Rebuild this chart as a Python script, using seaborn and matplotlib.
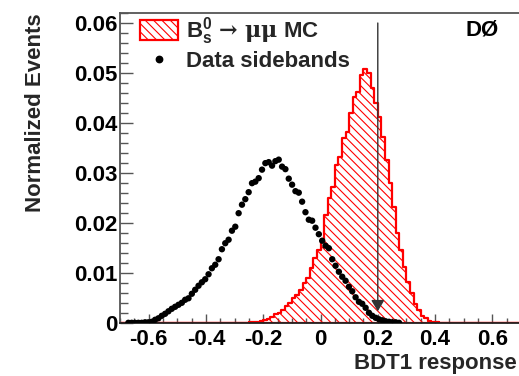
import numpy as np
import matplotlib
matplotlib.use("Agg")
import matplotlib.pyplot as plt
import seaborn as sns
from matplotlib.patches import Patch
from matplotlib.lines import Line2D
from matplotlib.ticker import MultipleLocator, FuncFormatter

# ---------------- data ----------------
x_range = (-0.7, 0.7)
y_range = (0.0, 0.062)
cut_value = 0.2

# Bs -> mu mu MC histogram: bins of width 0.0125, first filled bin starts at -0.25
mc_bin_width = 0.0125
mc_first_edge = -0.25
mc_values = [
    0.0002, 0.0003, 0.0003, 0.0005, 0.0006, 0.0009, 0.0013, 0.0018, 0.0021, 0.0027,
    0.0035, 0.0041, 0.0050, 0.0057, 0.0067, 0.0080, 0.0090, 0.0110, 0.0130, 0.0147,
    0.0162, 0.0217, 0.0250, 0.0272, 0.0317, 0.0333, 0.0370, 0.0383, 0.0420, 0.0453,
    0.0463, 0.0497, 0.0508, 0.0500, 0.0470, 0.0440, 0.0413, 0.0373, 0.0327, 0.0280,
    0.0233, 0.0180, 0.0147, 0.0113, 0.0083, 0.0060, 0.0039, 0.0027, 0.0015, 0.0010,
    0.0005, 0.0003, 0.0002, 0.0001,
]

# Data sidebands: 120 bins over [-0.7, 0.7], filled from bin index 2
data_n_bins = 120
data_first_bin = 2
data_values = [
    0.0001, 0.0001, 0.0001, 0.0001, 0.0001, 0.0002, 0.0002, 0.0003, 0.0007, 0.0010,
    0.0015, 0.0019, 0.0024, 0.0029, 0.0033, 0.0037, 0.0041, 0.0047, 0.0050, 0.0059,
    0.0067, 0.0075, 0.0082, 0.0088, 0.0098, 0.0110, 0.0117, 0.0128, 0.0148, 0.0160,
    0.0167, 0.0185, 0.0193, 0.0220, 0.0237, 0.0248, 0.0262, 0.0280, 0.0283, 0.0290,
    0.0307, 0.0320, 0.0322, 0.0315, 0.0324, 0.0327, 0.0313, 0.0308, 0.0289, 0.0277,
    0.0264, 0.0261, 0.0243, 0.0222, 0.0207, 0.0205, 0.0191, 0.0178, 0.0165, 0.0155,
    0.0150, 0.0128, 0.0115, 0.0103, 0.0093, 0.0085, 0.0073, 0.0064, 0.0052, 0.0043,
    0.0039, 0.0031, 0.0021, 0.0015, 0.0011, 0.0008, 0.0006, 0.0004, 0.0003, 0.0002,
    0.0002, 0.0001,
]

legend_labels = [r"$\mathbf{B_s^0}\,\rightarrow\,\mathrm{\mu\mu}$ MC", "Data sidebands"]
x_label = "BDT1 response"
y_label = "Normalized Events"
experiment = "DØ"

# ---------------- style ----------------
sns.set_style("ticks")
plt.rcParams.update({
    "font.family": ["Liberation Sans", "DejaVu Sans"],
    "font.weight": "bold",
    "font.size": 16,
    "axes.unicode_minus": False,
    "mathtext.fontset": "custom",
    "mathtext.rm": "DejaVu Serif",
    "mathtext.bf": "Liberation Sans:bold",
    "mathtext.it": "Liberation Sans:italic:bold",
    "hatch.linewidth": 0.8,
})

axis_gray = "#555555"
fs = 16

fig = plt.figure(figsize=(5.19, 3.76), dpi=100)
ax = fig.add_axes([120 / 519, 52.7 / 376, 401 / 519, 310.3 / 376])

# MC histogram
mc_edges = [float(e) for e in np.round(np.arange(x_range[0], x_range[1] + 1e-9, mc_bin_width), 6)]
mc_centers = mc_first_edge + (np.arange(len(mc_values)) + 0.5) * mc_bin_width
hatch = "\\\\\\\\"
sns.histplot(x=mc_centers, weights=mc_values, bins=mc_edges, element="step",
             fill=True, color="red", facecolor="none", edgecolor="red", hatch=hatch,
             linewidth=1.6, ax=ax)

# Data points
data_width = (x_range[1] - x_range[0]) / data_n_bins
data_centers = x_range[0] + (np.arange(data_first_bin, data_first_bin + len(data_values)) + 0.5) * data_width
sns.scatterplot(x=data_centers, y=data_values, color="black", s=21,
                edgecolor="none", ax=ax, zorder=3)

# Cut arrow
ax.annotate("", xy=(cut_value, 0.0024), xytext=(cut_value, 0.0600),
            arrowprops=dict(arrowstyle="-|>,head_length=0.42,head_width=0.25",
                            color="#333333", lw=1.0, shrinkA=0, shrinkB=0,
                            mutation_scale=16))

ax.set_xlim(*x_range)
ax.set_ylim(*y_range)

fmt = FuncFormatter(lambda v, p: "0" if abs(v) < 1e-9 else f"{v:g}")
ax.xaxis.set_major_locator(MultipleLocator(0.2))
ax.xaxis.set_minor_locator(MultipleLocator(0.05))
ax.yaxis.set_major_locator(MultipleLocator(0.01))
ax.yaxis.set_minor_locator(MultipleLocator(0.002))
ax.xaxis.set_major_formatter(fmt)
ax.yaxis.set_major_formatter(fmt)

ax.tick_params(which="both", direction="in", colors=axis_gray, labelcolor="black",
               width=1.0, top=False, right=False, labelsize=fs)
ax.tick_params(axis="y", which="major", length=9.5, pad=2)
ax.tick_params(axis="y", which="minor", length=6)
ax.tick_params(axis="x", which="major", length=6.5, pad=4)
ax.tick_params(axis="x", which="minor", length=3.8)
for lab in ax.get_xticklabels() + ax.get_yticklabels():
    lab.set_fontweight("bold")

for side in ["left", "top", "right"]:
    ax.spines[side].set_color(axis_gray)
    ax.spines[side].set_linewidth(1.3)
ax.spines["bottom"].set_color("#222222")
ax.spines["bottom"].set_linewidth(1.3)

ax.set_ylabel(y_label, fontsize=fs, fontweight="bold", ha="right")
ax.yaxis.set_label_coords(-0.2095, 1.0)
ax.yaxis.label.set_verticalalignment("center")
ax.set_xlabel(x_label, fontsize=fs, fontweight="bold", ha="right")
ax.xaxis.set_label_coords(0.99, -0.128)
ax.xaxis.label.set_verticalalignment("center")

ax.text(0.564, 0.0587, experiment, ha="center", va="center", fontsize=fs,
        fontweight="bold", color="black")

handles = [Patch(facecolor="none", edgecolor="red", hatch=hatch, linewidth=1.6),
           Line2D([], [], marker="o", color="black", linestyle="none", markersize=4.6)]
ax.legend(handles, legend_labels, loc="upper left", bbox_to_anchor=(0.045, 1.0),
          frameon=False, handlelength=1.7, handleheight=1.0, handletextpad=0.35,
          labelspacing=0.12, borderpad=0.1, borderaxespad=0,
          prop={"weight": "bold", "size": fs})

fig.savefig("out.png", dpi=100)
